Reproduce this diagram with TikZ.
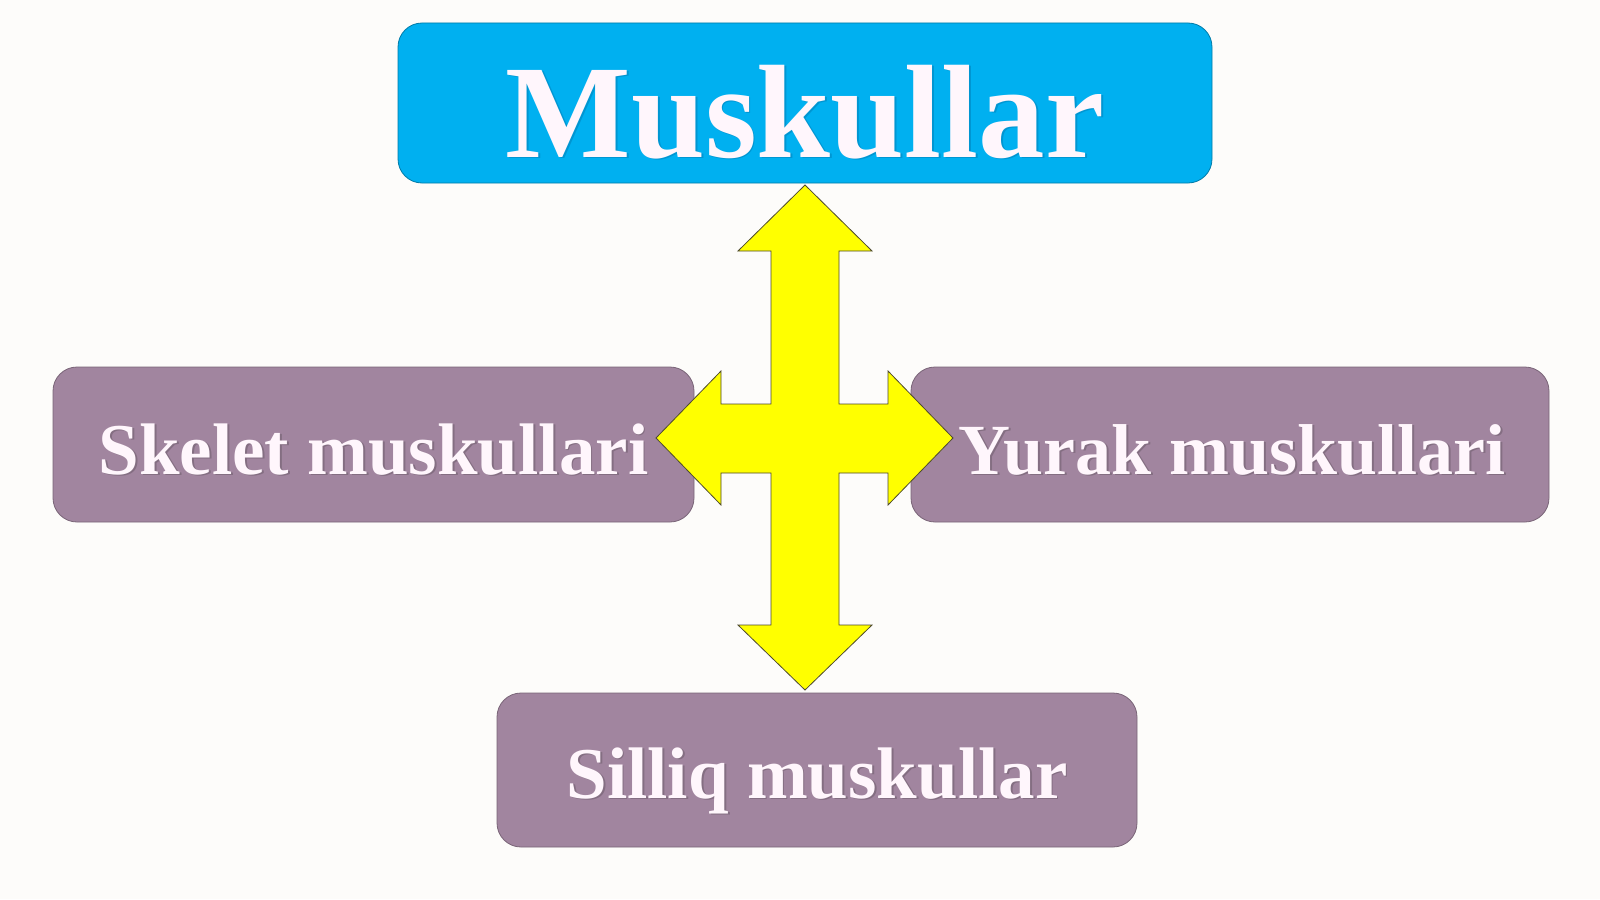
\documentclass[tikz,border=0pt]{standalone}
\usepackage{fontspec}
\setmainfont{Liberation Serif}
\usetikzlibrary{calc}
\definecolor{bgc}{RGB}{253,252,250}
\definecolor{topc}{RGB}{0,176,240}
\definecolor{purc}{RGB}{161,133,159}
\definecolor{arrowc}{RGB}{255,255,0}
\definecolor{txtc}{RGB}{255,246,252}
\definecolor{shpur}{RGB}{132,110,130}
\definecolor{shtop}{RGB}{0,150,210}
\newcommand\shtext[2]{\makebox[0pt][l]{\kern1.8pt\raisebox{-1.8pt}{\textcolor{#1}{#2}}}#2}
\tikzset{
  box/.style={draw=black!45, line width=0.8pt, rounded corners=24pt, inner sep=0pt,
    text=txtc, font=\bfseries, text depth=0pt},
  topbox/.style={box, fill=topc, draw=topc!70!black},
  purbox/.style={box, fill=purc, draw=purc!75!black},
  quadarrow/.style={fill=arrowc, draw=black!60!olive, line width=0.8pt, line join=miter}
}
\begin{document}
\begin{tikzpicture}[x=1pt,y=-1pt]
\fill[bgc] (0,0) rectangle (1600,899);
\useasboundingbox (0,0) rectangle (1600,899);
\node[topbox, minimum width=814pt, minimum height=160pt, text height=108pt,
  font=\bfseries\fontsize{133}{140}\selectfont] (top) at (805,103)
  {\shtext{shtop}{Muskullar}};
\node[purbox, minimum width=641pt, minimum height=155pt, text height=59pt,
  font=\bfseries\fontsize{73}{80}\selectfont] (left) at (373.5,444.5)
  {\shtext{shpur}{Skelet muskullari}};
\node[purbox, minimum width=638pt, minimum height=155pt, text height=59pt,
  font=\bfseries\fontsize{72}{78}\selectfont] (right) at (1230,444.5)
  {\kern4pt\shtext{shpur}{Yurak muskullari}};
\node[purbox, minimum width=640pt, minimum height=154pt, text height=56pt,
  font=\bfseries\fontsize{73}{80}\selectfont] (bottom) at (817,770)
  {\shtext{shpur}{Silliq muskullar}};
\coordinate (c) at (805,438);
\draw[quadarrow]
  ($(c)+(0,-253)$) -- ($(c)+(67,-187)$) -- ($(c)+(34,-187)$) -- ($(c)+(34,-34)$)
  -- ($(c)+(83,-34)$) -- ($(c)+(83,-67)$) -- ($(c)+(148,0)$) -- ($(c)+(83,67)$)
  -- ($(c)+(83,35)$) -- ($(c)+(34,35)$) -- ($(c)+(34,187)$) -- ($(c)+(67,187)$)
  -- ($(c)+(0,252)$) -- ($(c)+(-67,187)$) -- ($(c)+(-34,187)$) -- ($(c)+(-34,35)$)
  -- ($(c)+(-84,35)$) -- ($(c)+(-84,67)$) -- ($(c)+(-149,0)$) -- ($(c)+(-84,-67)$)
  -- ($(c)+(-84,-34)$) -- ($(c)+(-34,-34)$) -- ($(c)+(-34,-187)$) -- ($(c)+(-67,-187)$)
  -- cycle;
\end{tikzpicture}
\end{document}
